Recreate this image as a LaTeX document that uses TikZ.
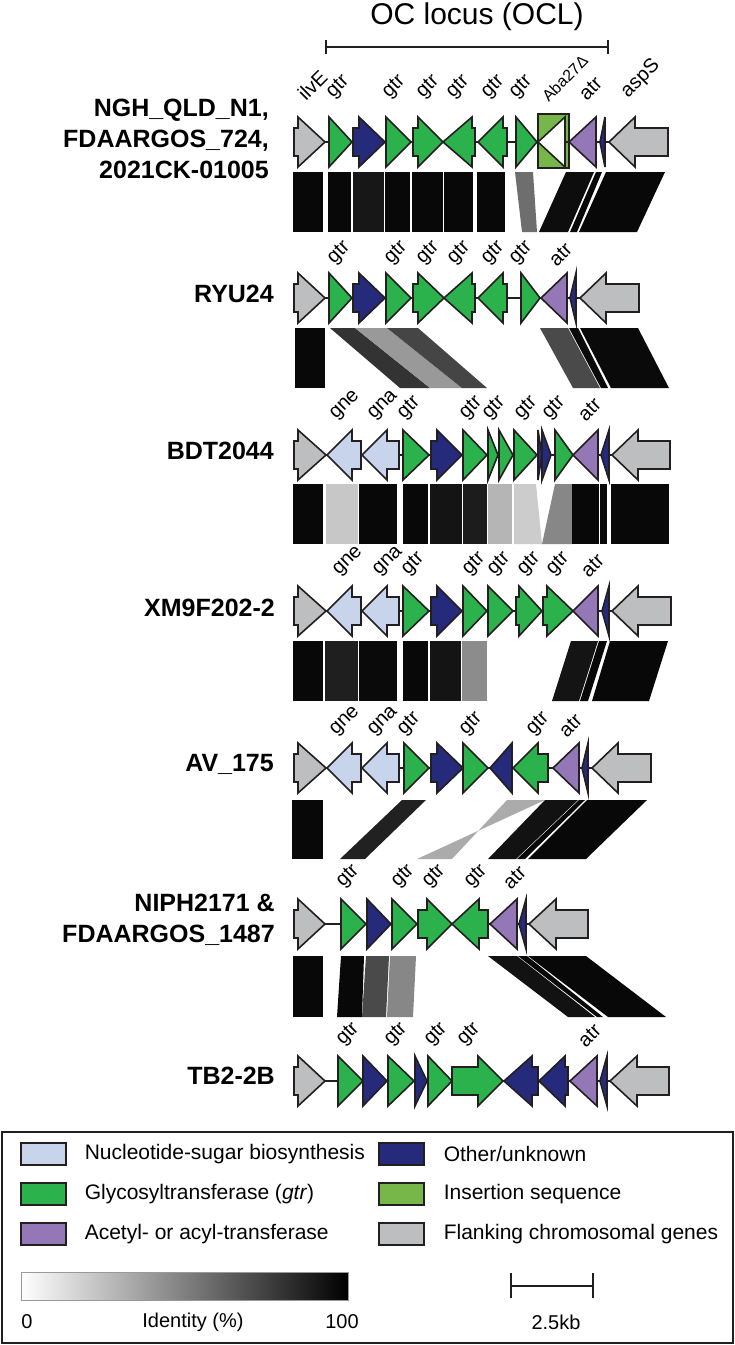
\documentclass[tikz,border=0pt]{standalone}
\usepackage{fontspec}
\setmainfont{Liberation Sans}
\usetikzlibrary{positioning}

\definecolor{flank}{HTML}{BCBEC0}
\definecolor{nuc}{HTML}{C8D4EC}
\definecolor{gtrgreen}{HTML}{2BB24C}
\definecolor{other}{HTML}{262A7B}
\definecolor{acyl}{HTML}{9477B6}
\definecolor{isgreen}{HTML}{77B74A}
\definecolor{outline}{HTML}{231F20}

% gene shapes, row centre in \gy
\newcommand{\arrR}[4]{\filldraw[gene,fill=#4] (#1,\gy-14) -- (#2,\gy-14) -- (#2,\gy-25) -- (#3,\gy) -- (#2,\gy+25) -- (#2,\gy+14) -- (#1,\gy+14) -- cycle;}
\newcommand{\arrL}[4]{\filldraw[gene,fill=#4] (#1,\gy) -- (#2,\gy-25) -- (#2,\gy-14) -- (#3,\gy-14) -- (#3,\gy+14) -- (#2,\gy+14) -- (#2,\gy+25) -- cycle;}
\newcommand{\triR}[3]{\filldraw[gene,fill=#3] (#1,\gy-25) -- (#2,\gy) -- (#1,\gy+25) -- cycle;}
\newcommand{\triL}[3]{\filldraw[gene,fill=#3] (#2,\gy-25) -- (#1,\gy) -- (#2,\gy+25) -- cycle;}
% identity block between \btop and \bbot
\newcommand{\blk}[5]{\fill[#1] (#2,\btop) -- (#3,\btop) -- (#4,\bbot) -- (#5,\bbot) -- cycle;}

\begin{document}
\begin{tikzpicture}[x=1pt,y=-1pt,
   gene/.style={draw=outline,line width=1.6pt},
   link/.style={draw=outline,line width=1.5pt},
   bar/.style={draw=outline,line width=1.8pt},
   glabel/.style={rotate=45,anchor=south west,inner sep=0pt,font=\fontsize{20}{24}\selectfont},
   strain/.style={anchor=east,align=right,inner sep=0pt,font=\bfseries\fontsize{25}{31}\selectfont},
   swatch/.style={draw=outline,line width=1.2pt,minimum width=45pt,minimum height=22pt,inner sep=0pt},
   legtext/.style={anchor=west,inner sep=0pt,font=\fontsize{21}{25}\selectfont},
   scaletext/.style={inner sep=0pt,font=\fontsize{20}{24}\selectfont}]
  \useasboundingbox (0,0) rectangle (735,1345);

  % OC locus bar
  \node[anchor=base,inner sep=0pt,font=\fontsize{30}{36}\selectfont] (ocl) at (477,24) {OC locus (OCL)};
  \draw[bar] (326,40) -- (326,54) (326,47) -- (608,47) (608,40) -- (608,54);

  % strain names
  \node[strain] (ngh) at (269,139) {NGH\_QLD\_N1,\hspace{8pt}\\FDAARGOS\_724,\\2021CK-01005};
  \node[strain] (ryu) at (274,294) {RYU24};
  \node[strain] (bdt) at (274,451) {BDT2044};
  \node[strain] (xm) at (275,608) {XM9F202-2};
  \node[strain] (av) at (274,764) {AV\_175};
  \node[strain] (niph) at (275,920) {NIPH2171 \&\\FDAARGOS\_1487};
  \node[strain] (tb) at (275,1076) {TB2-2B};

  % row 1
  \def\gy{142}
  \draw[link] (298,\gy) -- (609,\gy);
  \arrR{294}{298}{325}{flank}
  \triR{329}{352}{gtrgreen}
  \arrR{353}{359}{385}{other}
  \triR{386}{411}{gtrgreen}
  \arrR{413}{418}{443}{gtrgreen}
  \arrL{443}{472}{475}{gtrgreen}
  \arrL{478}{503}{507}{gtrgreen}
  \triR{516}{537}{gtrgreen}
  \filldraw[gene,fill=isgreen] (538,114) rectangle (569,168);
  \triL{538}{565}{white}
  \draw[link] (565,\gy) -- (569,\gy);
  \triL{569}{596}{acyl}
  \triL{600}{605}{other}
  \arrL{609}{635}{668}{flank}
  \foreach \x/\t in {297/ilvE,327/gtr,383/gtr,417/gtr,447/gtr,482/gtr,510/gtr,578/atr,622/aspS}
    \node[glabel] (a-\x) at (\x+9,102) {\t};
  \node[glabel,font=\fontsize{16}{19}\selectfont] (a-is) at (549,103) {Aba27Δ};

  \def\btop{172}\def\bbot{232}
  \blk{black!97}{293}{323}{323}{293}
  \blk{black!97}{328}{351}{351}{328}
  \blk{black!91}{353}{384}{384}{353}
  \blk{black!97}{385}{410}{410}{385}
  \blk{black!97}{412}{443}{443}{412}
  \blk{black!97}{444}{473}{473}{444}
  \blk{black!97}{477}{505}{505}{477}
  \blk{black!57}{515}{533}{537}{522}
  \blk{black!95}{566}{594}{568}{539}
  \blk{black!97}{596}{602}{577}{570}
  \blk{black!97}{606}{665}{637}{579}

  % row 2
  \def\gy{298}
  \draw[link] (298,\gy) -- (580,\gy);
  \arrR{294}{298}{325}{flank}
  \triR{329}{352}{gtrgreen}
  \arrR{353}{359}{385}{other}
  \triR{386}{411}{gtrgreen}
  \arrR{413}{418}{444}{gtrgreen}
  \arrL{444}{472}{475}{gtrgreen}
  \arrL{478}{503}{507}{gtrgreen}
  \triR{521}{540}{gtrgreen}
  \triL{541}{567}{acyl}
  \triL{570}{576}{other}
  \arrL{580}{606}{639}{flank}
  \foreach \x/\t in {328/gtr,385/gtr,417/gtr,448/gtr,482/gtr,510/gtr,548/atr}
    \node[glabel] (b-\x) at (\x+9,268) {\t};

  \def\btop{328}\def\bbot{388}
  \blk{black!97}{295}{325}{325}{295}
  \blk{black!80}{330}{355}{430}{400}
  \blk{black!40}{355}{387}{462}{430}
  \blk{black!73}{387}{418}{487}{462}
  \blk{black!71}{540}{568}{600}{573}
  \blk{black!96}{569}{578}{608}{601}
  \blk{black!96}{580}{638}{669}{611}

  % row 3
  \def\gy{455}
  \draw[link] (298,\gy) -- (612,\gy);
  \arrR{294}{298}{326}{flank}
  \arrL{327}{352}{361}{nuc}
  \arrL{362}{387}{399}{nuc}
  \triR{403}{429}{gtrgreen}
  \arrR{431}{437}{462}{other}
  \triR{463}{487}{gtrgreen}
  \triR{488}{498}{gtrgreen}
  \triR{499}{513}{gtrgreen}
  \triR{514}{537}{gtrgreen}
  \triR{538}{542}{other}
  \triR{542}{551}{other}
  \triR{555}{573}{gtrgreen}
  \triL{573}{598}{acyl}
  \triL{601}{609}{other}
  \arrL{612}{638}{670}{flank}
  \foreach \x/\t in {330/gne,368/gna,398/gtr,460/gtr,483/gtr,515/gtr,543/gtr,577/atr}
    \node[glabel] (c-\x) at (\x+9,423) {\t};

  \def\btop{484}\def\bbot{544}
  \blk{black!97}{293}{323}{323}{293}
  \blk{black!22}{326}{358}{358}{326}
  \blk{black!97}{359}{397}{397}{359}
  \blk{black!97}{403}{428}{428}{403}
  \blk{black!92}{430}{462}{462}{430}
  \blk{black!89}{463}{487}{487}{463}
  \blk{black!29}{488}{512}{512}{488}
  \blk{black!20}{514}{536}{542}{514}
  \blk{black!47}{555}{572}{572}{542}
  \blk{black!97}{572}{599}{599}{572}
  \blk{black!97}{600}{607}{607}{600}
  \blk{black!97}{611}{669}{669}{611}

  % row 4
  \def\gy{611}
  \draw[link] (298,\gy) -- (612,\gy);
  \arrR{294}{298}{326}{flank}
  \arrL{327}{352}{361}{nuc}
  \arrL{362}{387}{399}{nuc}
  \triR{403}{429}{gtrgreen}
  \arrR{431}{437}{462}{other}
  \triR{463}{487}{gtrgreen}
  \triR{488}{513}{gtrgreen}
  \arrR{516}{519}{542}{gtrgreen}
  \arrR{543}{547}{573}{gtrgreen}
  \triL{573}{598}{acyl}
  \triL{602}{609}{other}
  \arrL{612}{638}{671}{flank}
  \foreach \x/\t in {333/gne,373/gna,402/gtr,463/gtr,488/gtr,518/gtr,547/gtr,580/atr}
    \node[glabel] (d-\x) at (\x+9,579) {\t};

  \def\btop{641}\def\bbot{701}
  \blk{black!97}{293}{323}{323}{293}
  \blk{black!88}{325}{358}{358}{325}
  \blk{black!96}{359}{397}{397}{359}
  \blk{black!97}{403}{428}{428}{403}
  \blk{black!92}{430}{461}{461}{430}
  \blk{black!45}{462}{487}{487}{462}
  \blk{black!92}{571}{598}{579}{552}
  \blk{black!97}{599}{607}{588}{580}
  \blk{black!97}{610}{668}{649}{592}

  % row 5
  \def\gy{768}
  \draw[link] (298,\gy) -- (592,\gy);
  \arrR{294}{298}{326}{flank}
  \arrL{327}{352}{361}{nuc}
  \arrL{362}{387}{399}{nuc}
  \triR{404}{429}{gtrgreen}
  \arrR{431}{437}{463}{other}
  \triR{463}{488}{gtrgreen}
  \triL{490}{512}{other}
  \arrL{513}{538}{548}{gtrgreen}
  \triL{553}{579}{acyl}
  \triL{582}{588}{other}
  \arrL{592}{618}{651}{flank}
  \foreach \x/\t in {330/gne,368/gna,398/gtr,460/gtr,527/gtr,558/atr}
    \node[glabel] (e-\x) at (\x+9,739) {\t};

  \def\btop{800}\def\bbot{859}
  \blk{black!97}{292}{323}{323}{292}
  \blk{black!87}{402}{426}{365}{340}
  \blk{black!33}{507}{545}{417}{452}
  \blk{black!93}{545}{578}{516}{488}
  \blk{black!97}{579}{585}{525}{517}
  \blk{black!97}{587}{647}{586}{528}

  % row 6
  \def\gy{924}
  \draw[link] (298,\gy) -- (529,\gy);
  \arrR{294}{298}{325}{flank}
  \triR{341}{366}{gtrgreen}
  \triR{367}{391}{other}
  \triR{392}{417}{gtrgreen}
  \arrR{418}{427}{452}{gtrgreen}
  \arrL{452}{479}{488}{gtrgreen}
  \triL{490}{517}{acyl}
  \triL{519}{526}{other}
  \arrL{529}{556}{588}{flank}
  \foreach \x/\t in {337/gtr,392/gtr,423/gtr,465/gtr,502/atr}
    \node[glabel] (f-\x) at (\x+9,891) {\t};

  \def\btop{956}\def\bbot{1017}
  \blk{black!97}{293}{323}{323}{293}
  \blk{black!97}{341}{364}{362}{337}
  \blk{black!71}{366}{389}{386}{362}
  \blk{black!47}{390}{416}{413}{387}
  \blk{black!93}{488}{517}{595}{568}
  \blk{black!97}{518}{527}{603}{597}
  \blk{black!97}{528}{586}{666}{608}

  % row 7
  \def\gy{1081}
  \draw[link] (298,\gy) -- (610,\gy);
  \arrR{294}{298}{325}{flank}
  \triR{338}{363}{gtrgreen}
  \triR{363}{387}{other}
  \triR{388}{414}{gtrgreen}
  \triR{415}{427}{other}
  \triR{428}{452}{gtrgreen}
  \arrR{452}{478}{503}{gtrgreen}
  \arrL{504}{532}{538}{other}
  \arrL{539}{565}{568}{other}
  \triL{570}{597}{acyl}
  \triL{600}{607}{other}
  \arrL{610}{637}{669}{flank}
  \foreach \x/\t in {337/gtr,385/gtr,425/gtr,458/gtr,577/atr}
    \node[glabel] (g-\x) at (\x+9,1049) {\t};

  % legend
  \draw[draw=outline,line width=1.2pt] (2,1132) rectangle (733,1343);
  \node[swatch,fill=nuc] (swnuc) at (43.5,1154) {};
  \node[legtext,right=18pt of swnuc] (txnuc) {Nucleotide-sugar biosynthesis};
  \node[swatch,fill=gtrgreen] (swgtr) at (43.5,1194) {};
  \node[legtext,right=18pt of swgtr] (txgtr) {Glycosyltransferase (\textit{gtr})};
  \node[swatch,fill=acyl] (swacyl) at (43.5,1234) {};
  \node[legtext,right=18pt of swacyl] (txacyl) {Acetyl- or acyl-transferase};
  \node[swatch,fill=other] (swother) at (401.5,1154) {};
  \node[legtext,right=19pt of swother] (txother) {Other/unknown};
  \node[swatch,fill=isgreen] (swis) at (401.5,1194) {};
  \node[legtext,right=19pt of swis] (txis) {Insertion sequence};
  \node[swatch,fill=flank] (swflank) at (401.5,1234) {};
  \node[legtext,right=19pt of swflank] (txflank) {Flanking chromosomal genes};

  \shade[left color=white,right color=black,draw=black!40,line width=0.5pt] (21,1272) rectangle (348,1300);
  \node[scaletext] (id0) at (27,1322) {0};
  \node[scaletext] (idlab) at (193,1322) {Identity (\%)};
  \node[scaletext] (id100) at (342,1322) {100};

  \draw[bar] (511,1273) -- (511,1298) (511,1286) -- (593,1286) (593,1273) -- (593,1298);
  \node[scaletext] (kb) at (556,1322) {2.5kb};
\end{tikzpicture}
\end{document}
